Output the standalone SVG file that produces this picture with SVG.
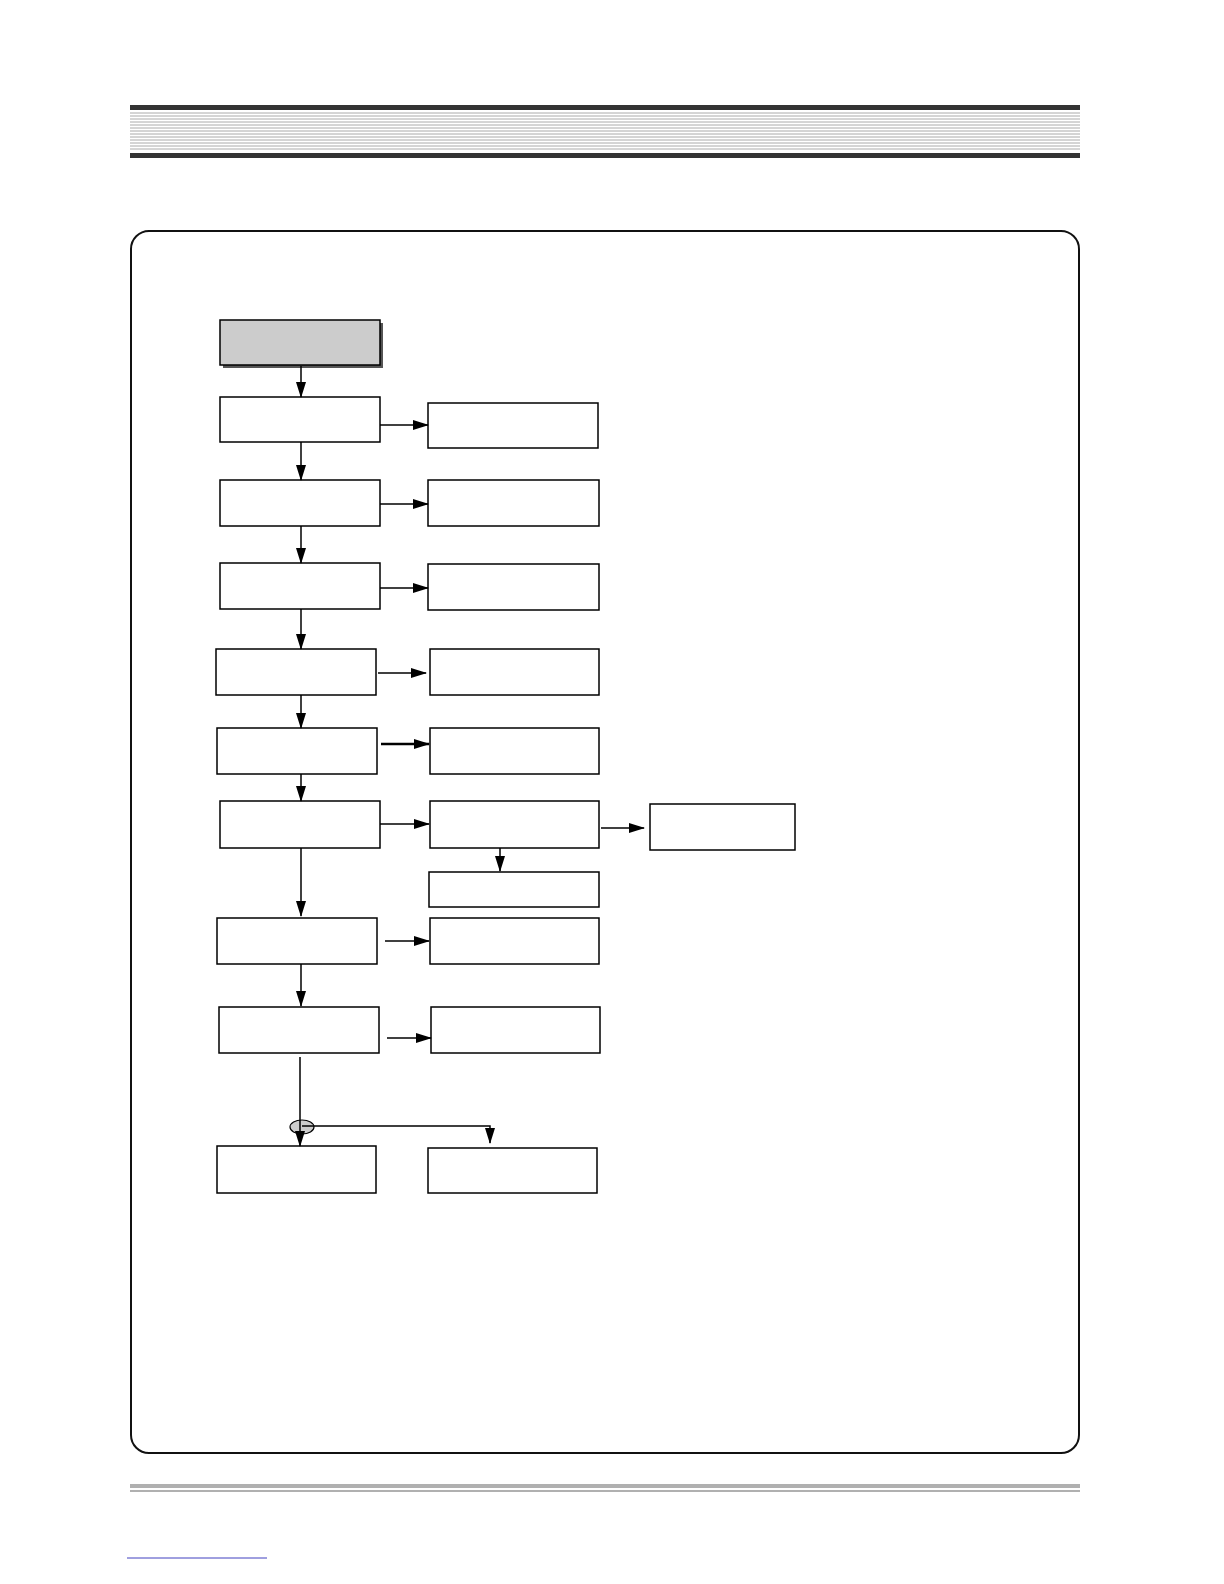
<svg xmlns="http://www.w3.org/2000/svg" width="1224" height="1584" viewBox="0 0 1224 1584">
<defs>
<style>
.n{fill:#fff;stroke:#000;stroke-width:1.5}
.c line,.c polyline{stroke:#000;stroke-width:1.5;fill:none}
.s{stroke:#aaa;stroke-width:1}
</style>
<marker id="a" markerWidth="16" markerHeight="10" refX="15" refY="5" orient="auto" markerUnits="userSpaceOnUse"><path d="M0,0L16,5L0,10z" fill="#000"/></marker>
</defs>
<rect width="1224" height="1584" fill="#fff"/>
<g id="header">
<rect x="130" y="105" width="950" height="5" fill="#333"/>
<g class="s">
<line x1="130" y1="113" x2="1080" y2="113"/><line x1="130" y1="116" x2="1080" y2="116"/><line x1="130" y1="119" x2="1080" y2="119"/><line x1="130" y1="122" x2="1080" y2="122"/><line x1="130" y1="125" x2="1080" y2="125"/><line x1="130" y1="128" x2="1080" y2="128"/><line x1="130" y1="131" x2="1080" y2="131"/><line x1="130" y1="134" x2="1080" y2="134"/><line x1="130" y1="137" x2="1080" y2="137"/><line x1="130" y1="140" x2="1080" y2="140"/><line x1="130" y1="143" x2="1080" y2="143"/><line x1="130" y1="146" x2="1080" y2="146"/><line x1="130" y1="149" x2="1080" y2="149"/>
</g>
<rect x="130" y="153" width="950" height="5" fill="#333"/>
</g>
<rect x="131" y="231" width="948" height="1222" rx="18" fill="none" stroke="#111" stroke-width="2"/>
<g id="start"><rect x="223" y="323" width="160" height="45" fill="#555"/><rect x="220" y="320" width="160" height="45" fill="#ccc" stroke="#000" stroke-width="1.5"/></g>
<g id="n1"><rect class="n" x="220" y="397" width="160" height="45"/></g>
<g id="n1r"><rect class="n" x="428" y="403" width="170" height="45"/></g>
<g id="n2"><rect class="n" x="220" y="480" width="160" height="46"/></g>
<g id="n2r"><rect class="n" x="428" y="480" width="171" height="46"/></g>
<g id="n3"><rect class="n" x="220" y="563" width="160" height="46"/></g>
<g id="n3r"><rect class="n" x="428" y="564" width="171" height="46"/></g>
<g id="n4"><rect class="n" x="216" y="649" width="160" height="46"/></g>
<g id="n4r"><rect class="n" x="430" y="649" width="169" height="46"/></g>
<g id="n5"><rect class="n" x="217" y="728" width="160" height="46"/></g>
<g id="n5r"><rect class="n" x="430" y="728" width="169" height="46"/></g>
<g id="n6"><rect class="n" x="220" y="801" width="160" height="47"/></g>
<g id="n6r"><rect class="n" x="430" y="801" width="169" height="47"/></g>
<g id="n6rr"><rect class="n" x="650" y="804" width="145" height="46"/></g>
<g id="n6b"><rect class="n" x="429" y="872" width="170" height="35"/></g>
<g id="n7"><rect class="n" x="217" y="918" width="160" height="46"/></g>
<g id="n7r"><rect class="n" x="430" y="918" width="169" height="46"/></g>
<g id="n8"><rect class="n" x="219" y="1007" width="160" height="46"/></g>
<g id="n8r"><rect class="n" x="431" y="1007" width="169" height="46"/></g>
<g id="n9"><rect class="n" x="217" y="1146" width="159" height="47"/></g>
<g id="n9r"><rect class="n" x="428" y="1148" width="169" height="45"/></g>
<g class="c" id="connectors">
<line x1="301" y1="366" x2="301" y2="397" marker-end="url(#a)"/>
<line x1="301" y1="442" x2="301" y2="480" marker-end="url(#a)"/>
<line x1="301" y1="526" x2="301" y2="563" marker-end="url(#a)"/>
<line x1="301" y1="609" x2="301" y2="649" marker-end="url(#a)"/>
<line x1="301" y1="695" x2="301" y2="728" marker-end="url(#a)"/>
<line x1="301" y1="774" x2="301" y2="801" marker-end="url(#a)"/>
<line x1="301" y1="848" x2="301" y2="916" marker-end="url(#a)"/>
<line x1="301" y1="964" x2="301" y2="1006" marker-end="url(#a)"/>
<line x1="380" y1="425" x2="428" y2="425" marker-end="url(#a)"/>
<line x1="380" y1="504" x2="428" y2="504" marker-end="url(#a)"/>
<line x1="380" y1="588" x2="428" y2="588" marker-end="url(#a)"/>
<line x1="378" y1="673" x2="426" y2="673" marker-end="url(#a)"/>
<line x1="381" y1="744" x2="429" y2="744" style="stroke-width:2.5" marker-end="url(#a)"/>
<line x1="380" y1="824" x2="429" y2="824" marker-end="url(#a)"/>
<line x1="601" y1="828" x2="644" y2="828" marker-end="url(#a)"/>
<line x1="500" y1="848" x2="500" y2="871" marker-end="url(#a)"/>
<line x1="385" y1="941" x2="429" y2="941" marker-end="url(#a)"/>
<line x1="387" y1="1038" x2="431" y2="1038" marker-end="url(#a)"/>
<ellipse cx="302" cy="1127" rx="12" ry="7" fill="#ccc" stroke="#000" stroke-width="1.2"/>
<line x1="300" y1="1057" x2="300" y2="1146" marker-end="url(#a)"/>
<polyline points="302,1126 490,1126 490,1143" marker-end="url(#a)"/>
</g>
<rect x="130" y="1484" width="950" height="4" fill="#b0b0b0"/>
<rect x="130" y="1490" width="950" height="2" fill="#b0b0b0"/>
<line x1="127" y1="1558" x2="267" y2="1558" stroke="#4040c0" stroke-width="1"/>
</svg>
